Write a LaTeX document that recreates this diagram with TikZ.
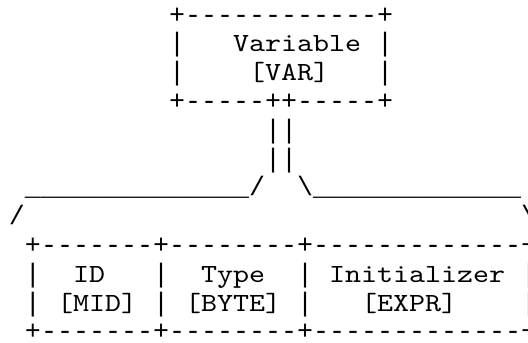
\documentclass[tikz,border=0pt]{standalone}
\usepackage{fontspec}
\setmonofont{Liberation Mono}
\newfontfamily\wordfont{lmmono10-regular.otf}[FakeStretch=1.1636,Scale=0.9824]
\usepackage{tikz}

% words in a serif typewriter face, rules in Liberation Mono
\newcommand\w[1]{{\wordfont #1}}

\begin{document}
\begin{tikzpicture}[x=16pt,y=-28.8pt,
  ascii/.style={anchor=base west,inner sep=0pt,outer sep=0pt,
    font=\ttfamily\fontsize{26.67}{28.8}\selectfont}]
  \useasboundingbox (-0.5625,-0.7986) rectangle (32.4375,11.1111);
  % parent box
  \node[ascii] (var top) at (10,0) {+------------+};
  \node[ascii] (var name) at (10,1) {|~~~\w{Variable}~|};
  \node[ascii] (var tag) at (10,2) {|~~~~\w{[VAR]}~~~|};
  \node[ascii] (var bot) at (10,3) {+-----++-----+};
  % double link down
  \foreach \r in {4,5}
    \node[ascii] (link \r) at (16,\r) {||};
  % fork
  \node[ascii] (fork) at (1,6) {\_\_\_\_\_\_\_\_\_\_\_\_\_\_/~~\textbackslash\_\_\_\_\_\_\_\_\_\_\_\_\_};
  \node[ascii] (fork l) at (0,7) {/};
  \node[ascii] (fork r) at (32,7) {\textbackslash};
  % child fields
  \foreach \r in {8,11}
    \node[ascii] (row \r) at (1,\r) {+-------+--------+-------------+};
  \node[ascii] (fields) at (1,9) {|~~\w{ID}~~~|~~\w{Type}~~|~\w{Initializer}~|};
  \node[ascii] (kinds) at (1,10) {|~\w{[MID]}~|~\w{[BYTE]}~|~~~\w{[EXPR]}~~~~|};
\end{tikzpicture}
\end{document}
